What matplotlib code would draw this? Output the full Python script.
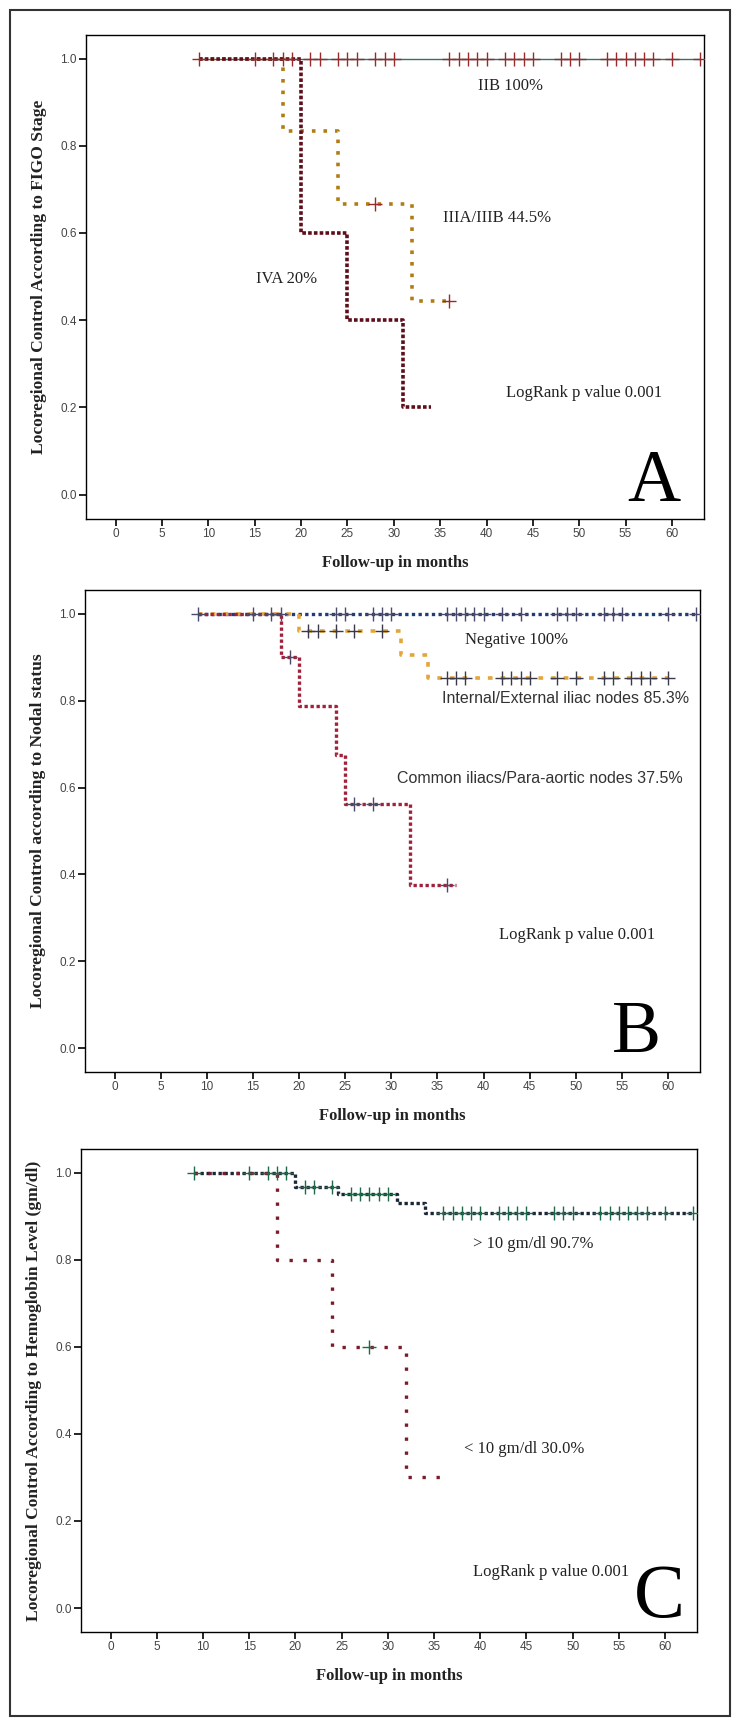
import numpy as np
import matplotlib
matplotlib.use('Agg')
import matplotlib.pyplot as plt
from matplotlib.patches import Rectangle

SERIF = 'Liberation Serif'
SANS = 'Liberation Sans'

x_ticks = list(range(0, 61, 5))
y_ticks = [0.0, 0.2, 0.4, 0.6, 0.8, 1.0]

# ---- A: FIGO stage
a_iib_t = [9, 63]
a_iib_s = [1.0, 1.0]
a_iib_cens = [9, 15, 17, 18, 19, 21, 22, 24, 25, 26, 28, 29, 30, 36, 37, 38, 39, 40,
              42, 43, 44, 45, 48, 49, 50, 53, 54, 55, 56, 57, 58, 60, 63]
a_iii_t = [9, 18, 24, 32, 36]
a_iii_s = [1.0, 0.833, 0.667, 0.445, 0.445]
a_iii_cens = [28, 36]
a_iva_t = [9, 20, 25, 31, 34]
a_iva_s = [1.0, 0.6, 0.4, 0.2, 0.2]

# ---- B: nodal status
b_neg_t = [9, 63]
b_neg_s = [1.0, 1.0]
b_neg_cens = [9, 15, 17, 18, 24, 25, 28, 29, 30, 36, 37, 38, 39, 40, 42, 44, 48, 49, 50,
              53, 54, 55, 60, 63]
b_int_t = [9, 20, 31, 34, 60]
b_int_s = [1.0, 0.96, 0.906, 0.853, 0.853]
b_int_cens = [21, 22, 24, 26, 29, 36, 37, 38, 42, 43, 44, 45, 48, 50, 53, 54, 56, 57, 58, 60]
b_com_t = [9, 18, 20, 24, 25, 32, 37]
b_com_s = [1.0, 0.9, 0.788, 0.675, 0.563, 0.375, 0.375]
b_com_cens = [19, 26, 28, 36]

# ---- C: hemoglobin
c_hi_t = [9, 20, 24.6, 31, 34, 63]
c_hi_s = [1.0, 0.968, 0.952, 0.93, 0.907, 0.907]
c_hi_cens = [9, 15, 17, 18, 19, 21, 22, 24, 26, 27, 28, 29, 30, 36, 37, 38, 39, 40,
             42, 43, 44, 45, 48, 49, 50, 53, 54, 55, 56, 57, 58, 60, 63]
c_lo_t = [9, 18, 24, 32, 36.5]
c_lo_s = [1.0, 0.8, 0.6, 0.3, 0.3]
c_lo_cens = [28]


def km(ax, t, s, cens, color, ls, lw, mcolor):
    ax.step(t, s, where='post', color=color, ls=ls, lw=lw, zorder=2)
    if cens:
        idx = np.searchsorted(t, cens, side='right') - 1
        ax.plot(cens, np.array(s)[idx], ls='none', marker='+', ms=10, mew=1.0,
                color=mcolor, zorder=3)


def setup(ax, ylabel):
    ax.set_xlim(-3.2, 63.45)
    ax.set_ylim(-0.055, 1.055)
    ax.set_xticks(x_ticks)
    ax.set_yticks(y_ticks)
    ax.set_yticklabels(['%.1f' % v for v in y_ticks])
    ax.tick_params(direction='out', length=5, width=1.2, pad=1.5, labelsize=8.5,
                   labelcolor='#444444')
    for lab in ax.get_xticklabels() + ax.get_yticklabels():
        lab.set_family(SANS)
    for sp in ax.spines.values():
        sp.set_linewidth(1.0)
    ax.set_ylabel(ylabel, family=SERIF, fontweight='bold', fontsize=12.6, color='#222222')
    ax.yaxis.set_label_coords(-0.063, 0.5)
    ax.set_xlabel('Follow-up in months', family=SERIF, fontweight='bold', fontsize=12,
                  color='#222222')
    ax.xaxis.set_label_coords(0.5, -0.075)


fig = plt.figure(figsize=(7.41, 17.26), dpi=100)
fig.patches.append(Rectangle((10 / 741, 10 / 1726), 720 / 741, 1706 / 1726,
                             transform=fig.transFigure, fill=False, ec='#333333', lw=1.5))

# Panel A
ax = fig.add_axes([0.116, 0.6995, 0.834, 0.2805])
km(ax, a_iib_t, a_iib_s, None, '#3d6e66', '-', 1.0, '#9a2a2a')
km(ax, a_iii_t, a_iii_s, a_iii_cens, '#b07d14', (0, (1, 2.2)), 2.6, '#9a2a2a')
km(ax, a_iva_t, a_iva_s, None, '#5e0d1a', (0, (1, 0.6)), 2.6, '#9a2a2a')
ax.plot(a_iib_cens, [1.0] * len(a_iib_cens), ls='none', marker='+', ms=10, mew=1.0,
        color='#9a2a2a', zorder=3)
setup(ax, 'Locoregional Control According to FIGO Stage')
txt = dict(family=SERIF, fontsize=12, color='#222222', va='center')
ax.text(39.1, 0.938, 'IIB 100%', **txt)
ax.text(35.3, 0.634, 'IIIA/IIIB 44.5%', **txt)
ax.text(15.1, 0.494, 'IVA 20%', **txt)
ax.text(42.1, 0.234, 'LogRank p value 0.001', **txt)
ax.text(60.9, -0.015, 'A', family=SERIF, fontsize=53, ha='right', va='baseline')

# Panel B
ax = fig.add_axes([0.1147, 0.3789, 0.830, 0.2793])
km(ax, b_neg_t, b_neg_s, b_neg_cens, '#1e3c78', (0, (1, 1)), 2.4, '#4a4a6a')
km(ax, b_int_t, b_int_s, b_int_cens, '#e3a63a', (0, (1.3, 2.2)), 2.6, '#3a3a4a')
km(ax, b_com_t, b_com_s, b_com_cens, '#a3203a', (0, (1, 0.8)), 2.4, '#4a4a6a')
setup(ax, 'Locoregional Control according to Nodal status')
ax.text(38.0, 0.940, 'Negative 100%', **txt)
stxt = dict(family=SANS, fontsize=11.5, color='#333333', va='center')
ax.text(35.5, 0.804, 'Internal/External iliac nodes 85.3%', **stxt)
ax.text(30.6, 0.621, 'Common iliacs/Para-aortic nodes 37.5%', **stxt)
ax.text(41.7, 0.26, 'LogRank p value 0.001', **txt)
ax.text(59.2, -0.01, 'B', family=SERIF, fontsize=53, ha='right', va='baseline')

# Panel C
ax = fig.add_axes([0.1093, 0.0545, 0.8313, 0.2798])
km(ax, c_hi_t, c_hi_s, c_hi_cens, '#1a2636', (0, (1, 0.8)), 2.4, '#1d6b4a')
km(ax, c_lo_t, c_lo_s, c_lo_cens, '#7a1c2c', (0, (1, 3.2)), 2.4, '#1d6b4a')
setup(ax, 'Locoregional Control According to Hemoglobin Level (gm/dl)')
ax.text(39.2, 0.8375, '> 10 gm/dl 90.7%', **txt)
ax.text(38.2, 0.366, '< 10 gm/dl 30.0%', **txt)
ax.text(39.2, 0.083, 'LogRank p value 0.001', **txt)
ax.text(62.1, -0.02, 'C', family=SERIF, fontsize=55, ha='right', va='baseline')

fig.savefig('out.png', dpi=100)
